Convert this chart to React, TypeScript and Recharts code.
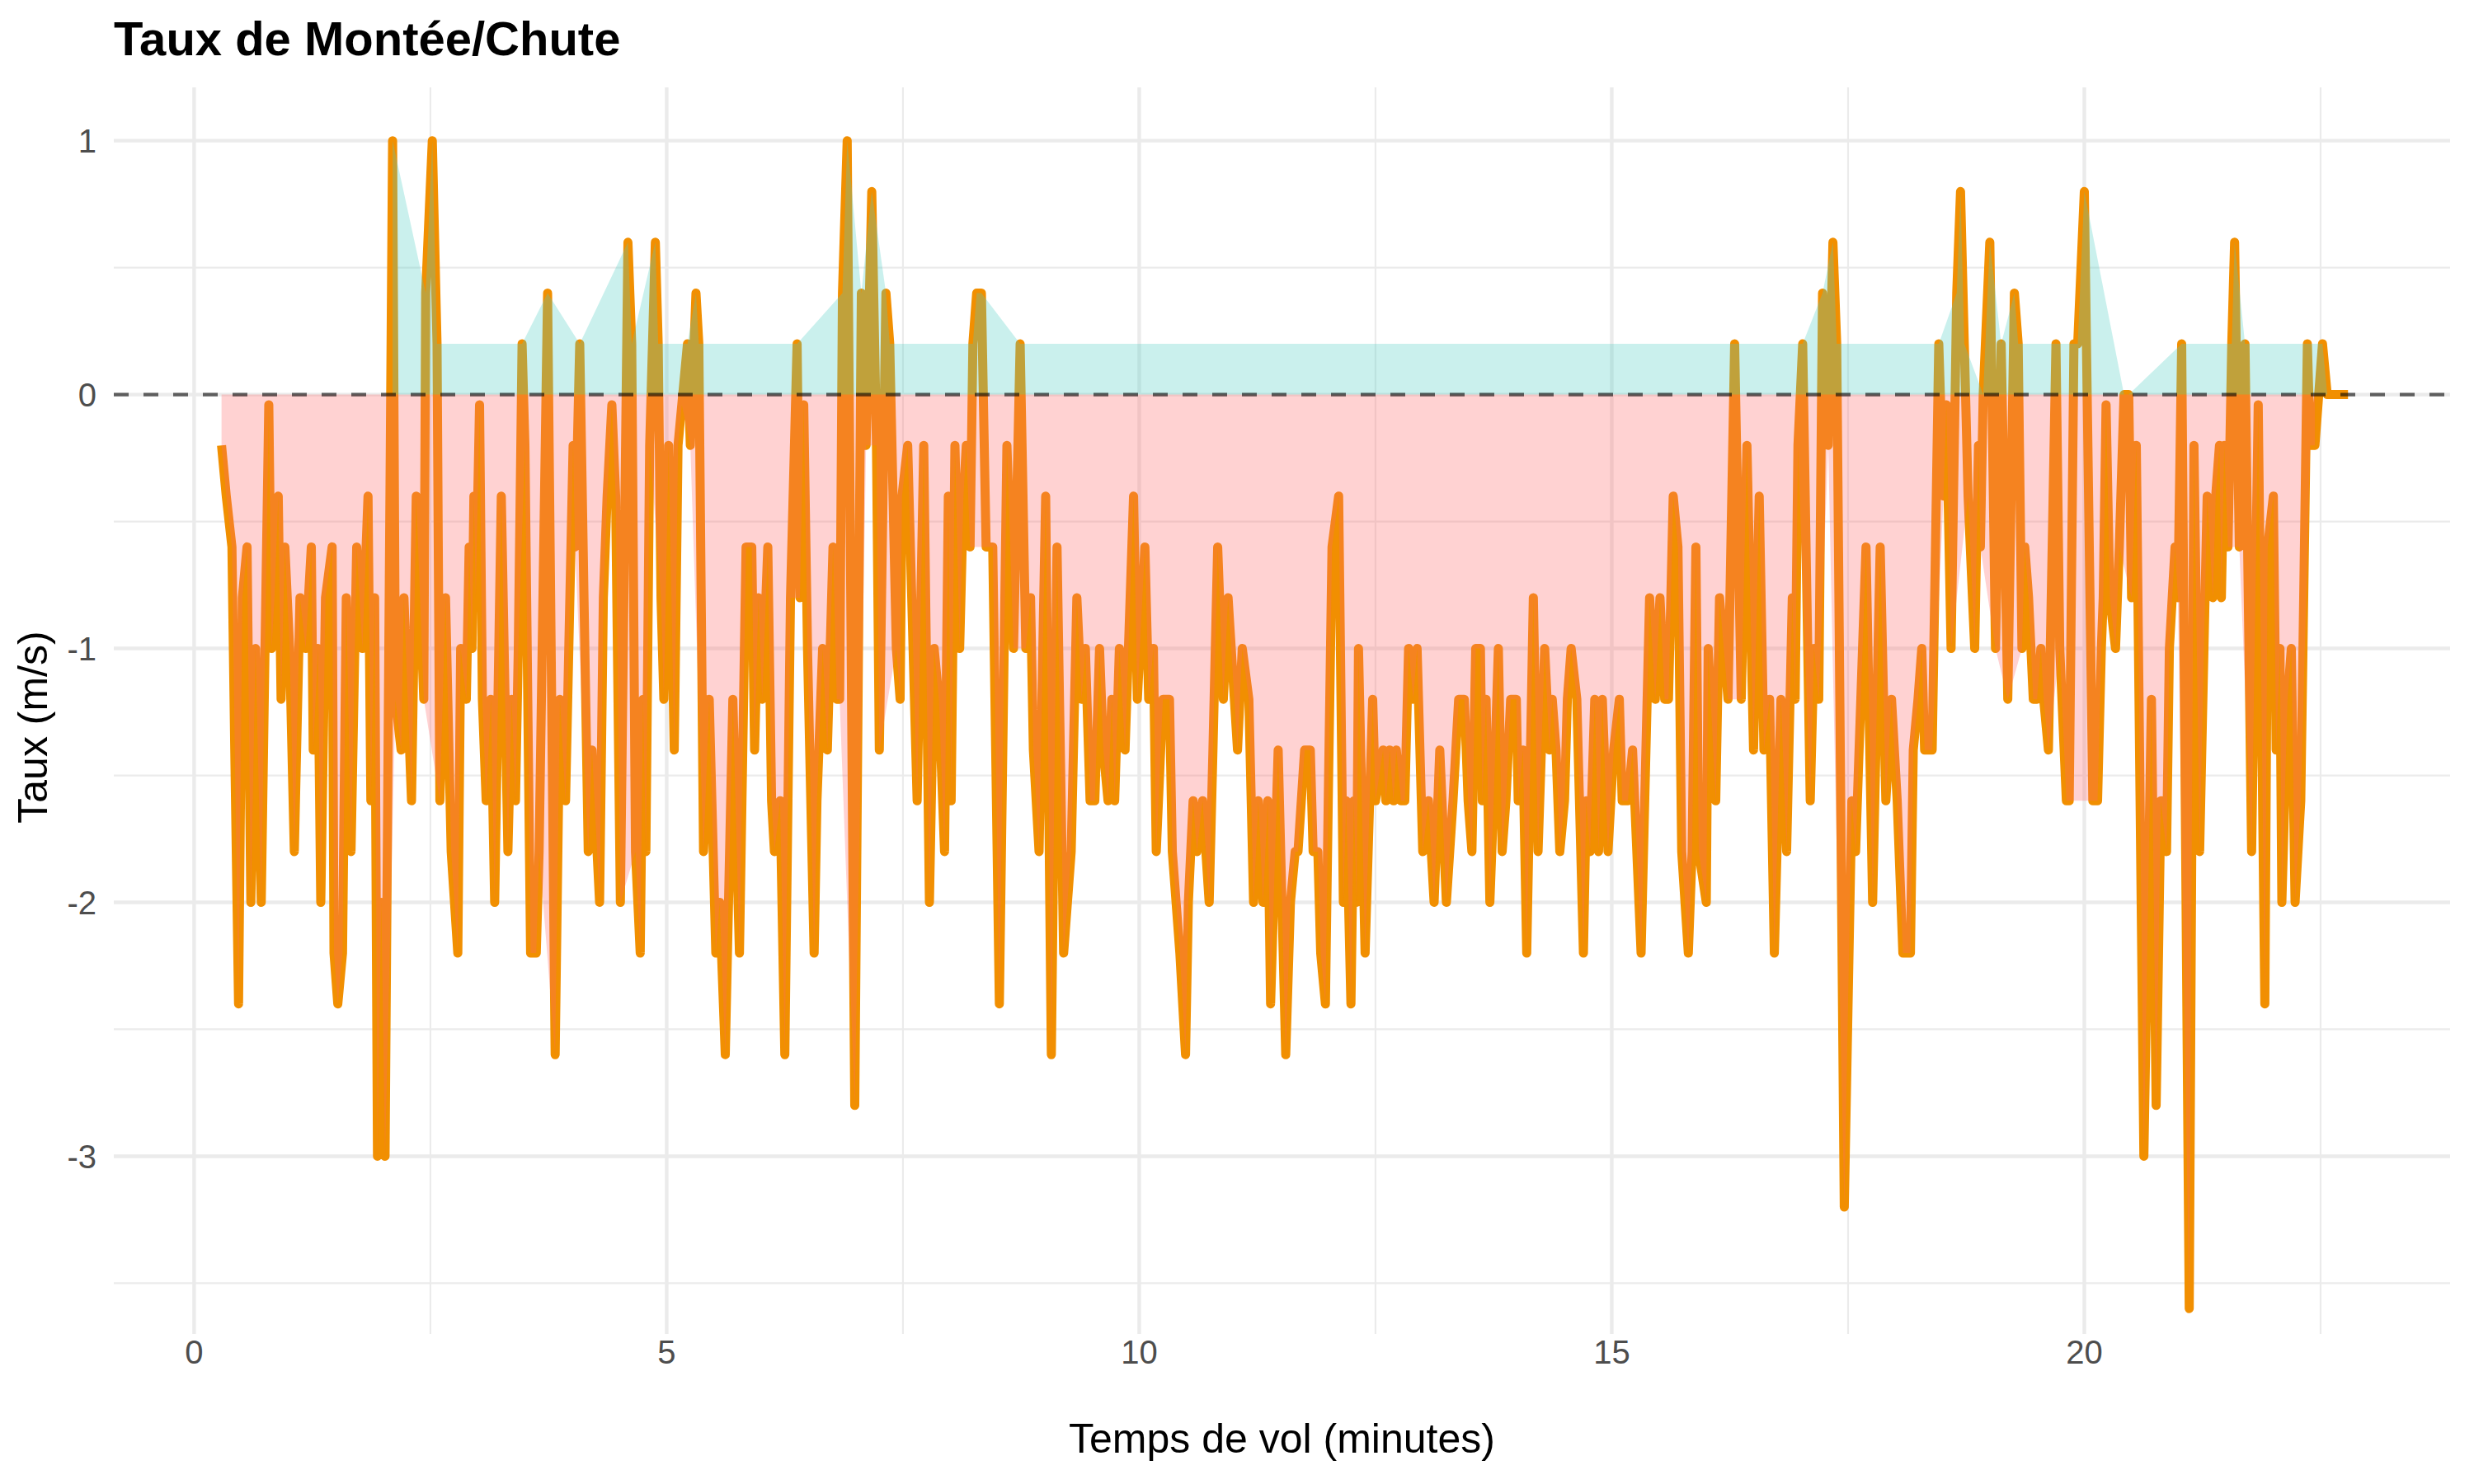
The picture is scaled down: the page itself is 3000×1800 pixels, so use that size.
import {
  ComposedChart,
  Line,
  Area,
  XAxis,
  YAxis,
  CartesianGrid,
  ReferenceLine,
} from "recharts";

// flight time (minutes) and vertical rate (m/s)
const minutes = [
  0.29, 0.34, 0.4, 0.43, 0.47, 0.51, 0.56, 0.6, 0.65, 0.71, 0.75, 0.79, 0.82, 0.85, 0.89, 0.92, 0.96, 1.01, 1.06, 1.12,
  1.18, 1.24, 1.26, 1.31, 1.34, 1.39, 1.46, 1.48, 1.52, 1.57, 1.61, 1.66, 1.72, 1.78, 1.84, 1.87, 1.91, 1.94, 1.98, 2.02,
  2.1, 2.13, 2.19, 2.22, 2.3, 2.35, 2.43, 2.45, 2.52, 2.57, 2.6, 2.66, 2.72, 2.79, 2.82, 2.88, 2.91, 2.94, 2.96, 2.98,
  3.02, 3.05, 3.09, 3.14, 3.18, 3.25, 3.32, 3.36, 3.4, 3.43, 3.47, 3.5, 3.56, 3.62, 3.65, 3.74, 3.82, 3.87, 3.93,
  4.01, 4.03, 4.08, 4.17, 4.21, 4.29, 4.33, 4.37, 4.42, 4.46, 4.51, 4.59, 4.63, 4.67, 4.72, 4.75, 4.78, 4.82, 4.88, 4.91,
  4.94, 4.97, 5.02, 5.08, 5.12, 5.16, 5.22, 5.25, 5.31, 5.34, 5.39, 5.45, 5.52, 5.56, 5.62, 5.7, 5.77, 5.84,
  5.9, 5.93, 5.97, 6.01, 6.07, 6.11, 6.14, 6.2, 6.25, 6.31, 6.38, 6.41, 6.45, 6.49, 6.56, 6.59, 6.65, 6.7, 6.76, 6.8,
  6.83, 6.86, 6.91, 6.99, 7.06, 7.11, 7.17, 7.22, 7.25, 7.32, 7.36, 7.43, 7.47, 7.49, 7.55, 7.65, 7.72, 7.78,
  7.83, 7.88, 7.94, 7.98, 8.01, 8.05, 8.1, 8.14, 8.17, 8.21, 8.24, 8.28, 8.33, 8.38, 8.45, 8.52, 8.6, 8.67, 8.74, 8.8,
  8.85, 8.88, 8.94, 9.01, 9.07, 9.13, 9.2, 9.28, 9.34, 9.39, 9.43, 9.48, 9.53, 9.58, 9.62, 9.67, 9.71,
  9.74, 9.79, 9.85, 9.94, 9.98, 10.06, 10.1, 10.15, 10.18, 10.25, 10.32, 10.35, 10.43, 10.49, 10.52, 10.57, 10.61, 10.67,
  10.74, 10.78, 10.83, 10.89, 10.94, 11.04, 11.09, 11.16, 11.21, 11.26, 11.31, 11.36, 11.39, 11.47, 11.55, 11.6, 11.65,
  11.68, 11.75, 11.81, 11.84, 11.89, 11.92, 11.97, 12.0, 12.04, 12.11, 12.16, 12.19, 12.24, 12.27, 12.3, 12.32, 12.39,
  12.47, 12.5, 12.58, 12.61, 12.65, 12.69, 12.72, 12.77, 12.81, 12.85, 12.9, 12.94, 13.0, 13.06, 13.12, 13.18, 13.25,
  13.32, 13.38, 13.44, 13.48, 13.52, 13.56,
  13.61, 13.63, 13.67, 13.71, 13.75, 13.8, 13.84, 13.88, 13.93, 13.99, 14.01, 14.06, 14.1, 14.17, 14.22, 14.29, 14.34,
  14.37, 14.41, 14.45, 14.5, 14.53, 14.57, 14.63, 14.7, 14.73, 14.77, 14.82, 14.86, 14.9, 14.96, 15.02, 15.08, 15.11,
  15.17, 15.22, 15.31, 15.4, 15.46,
  15.51, 15.56, 15.6, 15.65, 15.7, 15.74, 15.81, 15.85, 15.89, 15.92, 16.0, 16.02, 16.1, 16.14, 16.23, 16.3, 16.37,
  16.43, 16.5, 16.56, 16.61, 16.67, 16.72, 16.79, 16.85, 16.91, 16.94, 16.97, 17.02, 17.1, 17.14, 17.19, 17.23, 17.29,
  17.34, 17.38,
  17.46, 17.54, 17.58, 17.69, 17.76, 17.84, 17.9, 17.96, 18.02, 18.08, 18.16, 18.19, 18.24, 18.28, 18.31, 18.39, 18.46,
  18.51, 18.54, 18.59, 18.65, 18.69, 18.73, 18.77, 18.84, 18.88, 18.9, 18.93, 19.0, 19.06, 19.12, 19.19, 19.26, 19.3,
  19.34, 19.37, 19.41, 19.46, 19.5, 19.54, 19.57, 19.62, 19.7, 19.74, 19.81, 19.84, 19.89, 19.93, 20.0, 20.09, 20.14,
  20.18, 20.2, 20.23, 20.27, 20.33, 20.37, 20.42, 20.47, 20.5, 20.55, 20.63, 20.71, 20.76, 20.81, 20.87, 20.9, 20.93,
  20.96, 20.99, 21.03, 21.11, 21.16, 21.22,
  21.3, 21.36, 21.39, 21.43, 21.45, 21.48, 21.52, 21.56, 21.59, 21.64, 21.7, 21.77, 21.84, 21.91, 21.94, 22.0, 22.03,
  22.07, 22.09, 22.15, 22.19, 22.23, 22.29, 22.36, 22.39, 22.44, 22.52, 22.57, 22.68, 22.79,
];

const rate = [
  -0.2, -0.4, -0.6, -1.4, -2.4, -0.8, -0.6, -2.0, -1.0, -2.0, -1.0, -0.04, -1.0, -0.8, -0.4, -1.2, -0.6, -1.0, -1.8, -0.8,
  -1.0, -0.6, -1.4, -1.0, -2.0, -0.8, -0.6, -2.2, -2.4, -2.2, -0.8, -1.8, -0.6, -1.0, -0.4, -1.6, -0.8, -3.0, -2.0, -3.0,
  1.0, -1.2, -1.4, -0.8, -1.6, -0.4, -1.2, 0.4, 1.0, 0.2, -1.6, -0.8, -1.8, -2.2, -1.0, -1.2, -0.6, -1.0, -0.4, -0.8,
  -0.04, -1.2, -1.6, -1.2, -2.0, -0.4, -1.8, -1.2, -1.6, -1.0, 0.2, -0.2, -2.2, -2.2, -1.8, 0.4, -2.6, -1.2, -1.6,
  -0.2, -0.6, 0.2, -1.8, -1.4, -2.0, -0.8, -0.4, -0.04, -0.4, -2.0, 0.6, 0.2, -1.8, -2.2, -1.2, -1.8, -0.2, 0.6, 0.2,
  -0.8, -1.2, -0.2, -1.4, -0.2, -0.04, 0.2, -0.2, 0.4, 0.2, -1.8, -1.2, -2.2, -2.0, -2.6, -1.2, -2.2, -0.6,
  -0.6, -1.4, -0.8, -1.2, -0.6, -1.6, -1.8, -1.6, -2.6, -0.8, 0.2, -0.8, -0.04, -1.0, -2.2, -1.6, -1.0, -1.4, -0.6, -1.2,
  -1.2, 0.4, 1.0, -2.8, 0.4, -0.2, 0.8, -0.2, -1.4, 0.4, 0.2, -1.0, -1.2, -0.4, -0.2, -1.6, -0.2, -2.0,
  -1.0, -1.2, -1.8, -0.4, -1.6, -0.2, -1.0, -0.4, -0.2, -0.6, 0.2, 0.4, 0.4, -0.6, -0.6, -2.4, -0.2, -1.0, 0.2, -1.0,
  -0.8, -1.4, -1.8, -0.4, -2.6, -0.6, -2.2, -1.8, -0.8, -1.2, -1.0, -1.6, -1.6, -1.0, -1.4, -1.6, -1.2,
  -1.6, -1.0, -1.4, -0.4, -1.2, -0.6, -1.2, -1.0, -1.8, -1.2, -1.2, -1.8, -2.2, -2.6, -2.0, -1.6, -1.8, -1.6,
  -2.0, -1.4, -0.6, -1.2, -0.8, -1.4, -1.0, -1.2, -2.0, -1.6, -2.0, -1.6, -2.4, -1.4, -2.6, -2.0, -1.8,
  -1.8, -1.4, -1.4, -1.8, -1.8, -2.2, -2.4, -1.6, -0.6, -0.4, -2.0, -1.6, -2.4, -1.6, -2.0, -1.0, -2.2,
  -1.2, -1.6, -1.4, -1.6, -1.4, -1.6, -1.4, -1.6, -1.6, -1.0, -1.2, -1.0, -1.8, -1.6, -2.0, -1.4, -2.0,
  -1.6, -1.2, -1.2, -1.6, -1.8, -1.0,
  -1.0, -1.6, -1.2, -2.0, -1.6, -1.0, -1.8, -1.6, -1.2, -1.2, -1.6, -1.4, -2.2, -0.8, -1.8, -1.0, -1.4,
  -1.2, -1.4, -1.8, -1.6, -1.2, -1.0, -1.2, -2.2, -1.6, -1.8, -1.2, -1.8, -1.2, -1.8, -1.4, -1.2, -1.6,
  -1.6, -1.4, -2.2, -0.8, -1.2,
  -0.8, -1.2, -1.2, -0.4, -0.6, -1.8, -2.2, -1.8, -0.6, -1.8, -2.0, -1.0, -1.6, -0.8, -1.2, 0.2, -1.2,
  -0.2, -1.4, -0.4, -1.4, -1.2, -2.2, -1.2, -1.8, -0.8, -1.2, -0.2, 0.2, -1.6, -1.0, -1.2, 0.4, -0.2,
  0.6, 0.2,
  -3.2, -1.6, -1.8, -0.6, -2.0, -0.6, -1.6, -1.2, -1.6, -2.2, -2.2, -1.4, -1.2, -1.0, -1.4, -1.4, 0.2,
  -0.4, -0.04, -1.0, 0.4, 0.8, 0.2, -0.4, -1.0, -0.2, -0.6, 0.0, 0.6, -1.0, 0.2, -1.2, 0.4, 0.2,
  -1.0, -0.6, -0.8, -1.2, -1.2, -1.0, -1.2, -1.4, 0.2, -1.0, -1.6, -1.6, 0.2, 0.2, 0.8, -1.6, -1.6,
  -1.0, -0.8, -0.04, -0.8, -1.0, -0.6, 0.0, 0.0, -0.8, -0.2, -3.0, -1.2, -2.8, -1.6, -1.8, -1.0, -0.8,
  -0.6, -0.8, 0.2, -3.6, -0.2, -1.8,
  -0.4, -0.8, -0.4, -0.2, -0.8, -0.2, -0.6, 0.2, 0.6, -0.6, 0.2, -1.8, -0.04, -2.4, -0.6, -0.4, -1.4,
  -1.0, -2.0, -1.2, -1.0, -2.0, -1.6, 0.2, -0.2, -0.2, 0.2, 0.0, 0.0, 0.0,
];

const xTicks = [0, 5, 10, 15, 20];
const xMinor = [2.5, 7.5, 12.5, 17.5, 22.5];
const yTicks = [-3, -2, -1, 0, 1];
const yMinor = [-3.5, -2.5, -1.5, -0.5, 0.5];

const FONT = "'Liberation Sans', Arial, Helvetica, sans-serif";

// climb part and sink part are drawn as separate areas, each only through its own points
const rows = minutes.map((t, i) => ({
  t,
  rate: rate[i],
  up: rate[i] >= 0 ? rate[i] : null,
  down: rate[i] < 0 ? rate[i] : null,
}));

export default function App() {
  return (
    <div
      style={{
        position: "absolute",
        left: 0,
        top: 0,
        width: 3000,
        height: 1800,
        background: "#fff",
        fontFamily: FONT,
      }}
    >
      <ComposedChart
        width={3000}
        height={1800}
        data={rows}
        margin={{ top: 106, right: 29, bottom: 122, left: 38 }}
      >
        <CartesianGrid
          horizontalValues={yMinor}
          verticalValues={xMinor}
          stroke="#EBEBEB"
          strokeWidth={2.2}
        />
        <CartesianGrid
          horizontalValues={yTicks}
          verticalValues={xTicks}
          stroke="#EBEBEB"
          strokeWidth={4.4}
        />
        <XAxis
          dataKey="t"
          type="number"
          domain={[-0.85, 23.87]}
          ticks={xTicks}
          allowDataOverflow
          axisLine={false}
          tickLine={false}
          tickSize={0}
          tickMargin={8}
          height={60}
          tick={{ fontSize: 40, fill: "#4D4D4D", fontFamily: FONT }}
        />
        <YAxis
          type="number"
          domain={[-3.7, 1.21]}
          ticks={yTicks}
          allowDataOverflow
          axisLine={false}
          tickLine={false}
          tickSize={0}
          tickMargin={21}
          width={100}
          tick={{ fontSize: 40, fill: "#4D4D4D", fontFamily: FONT }}
        />
        <Line
          type="linear"
          dataKey="rate"
          stroke="#F18F01"
          strokeWidth={11}
          strokeLinejoin="round"
          dot={false}
          activeDot={false}
          isAnimationActive={false}
          zIndex={200}
        />
        <Area
          type="linear"
          dataKey="down"
          baseValue={0}
          fill="#FF6B6B"
          fillOpacity={0.3}
          stroke="none"
          connectNulls
          dot={false}
          activeDot={false}
          isAnimationActive={false}
          zIndex={300}
        />
        <Area
          type="linear"
          dataKey="up"
          baseValue={0}
          fill="#4ECDC4"
          fillOpacity={0.3}
          stroke="none"
          connectNulls
          dot={false}
          activeDot={false}
          isAnimationActive={false}
          zIndex={310}
        />
        <ReferenceLine
          y={0}
          stroke="#000"
          strokeOpacity={0.6}
          strokeWidth={4.4}
          strokeDasharray="18 18"
          zIndex={600}
        />
      </ComposedChart>

      <div
        style={{
          position: "absolute",
          left: 138,
          top: 18,
          fontSize: 58,
          lineHeight: "58px",
          fontWeight: 700,
          color: "#000",
          whiteSpace: "nowrap",
        }}
      >
        Taux de Montée/Chute
      </div>
      <div
        style={{
          position: "absolute",
          left: 138,
          top: 1720,
          width: 2833,
          textAlign: "center",
          fontSize: 50,
          lineHeight: "50px",
          color: "#000",
        }}
      >
        Temps de vol (minutes)
      </div>
      <div
        style={{
          position: "absolute",
          left: 40 - 756,
          top: 882 - 25,
          width: 1512,
          height: 50,
          textAlign: "center",
          fontSize: 50,
          lineHeight: "50px",
          color: "#000",
          transform: "rotate(-90deg)",
        }}
      >
        Taux (m/s)
      </div>
    </div>
  );
}
